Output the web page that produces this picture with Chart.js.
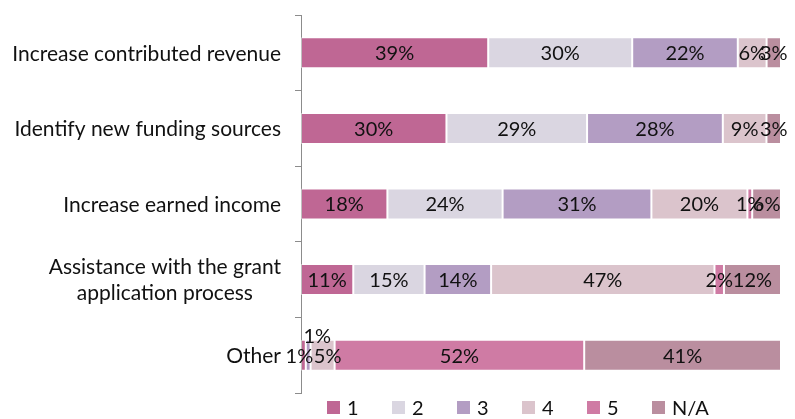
<!DOCTYPE html>
<html>
<head>
<meta charset="utf-8">
<script src="https://cdn.jsdelivr.net/npm/chart.js@4/dist/chart.umd.min.js"></script>
<style>
    html, body { margin: 0; padding: 0; background: #fff; }
    #wrap { width: 795px; height: 419px; position: relative; }
</style>
</head>
<body>
<div id="wrap"><canvas id="chart"></canvas></div>
<script>
// Categories (top to bottom) and rating shares in percent
const categories = [
    'Increase contributed revenue',
    'Identify new funding sources',
    'Increase earned income',
    ['Assistance with the grant', 'application process'],
    'Other'
];
const seriesNames = ['1', '2', '3', '4', '5', 'N/A'];
const rating1 = [39, 30, 18, 11, 1];
const rating2 = [30, 29, 24, 15, 0];
const rating3 = [22, 28, 31, 14, 1];
const rating4 = [6, 9, 20, 47, 5];
const rating5 = [0, 0, 1, 2, 52];
const ratingNA = [3, 3, 6, 12, 41];

const colors = ['#bf6794', '#dad6e1', '#b39dc3', '#dbc4cc', '#cf7ba4', '#ba8e9f'];
const FONT = 'Lato, "Open Sans", sans-serif';

const allSeries = [rating1, rating2, rating3, rating4, rating5, ratingNA];
// Each bar is drawn as 100% stacked, like the original
const rowTotals = categories.map((c, i) => allSeries.reduce((s, arr) => s + arr[i], 0));

// label nudges for crowded segments [dataset, row, dx, dy]
const labelNudges = [[0, 4, -4, 0], [2, 4, 9, -20], [3, 4, 5, 0]];

const segmentLabels = {
    id: 'segmentLabels',
    afterDatasetsDraw(chart) {
        const ctx = chart.ctx;
        ctx.save();
        ctx.font = '20px ' + FONT;
        ctx.fillStyle = '#111';
        ctx.textAlign = 'center';
        ctx.textBaseline = 'middle';
        chart.data.datasets.forEach((ds, di) => {
            const meta = chart.getDatasetMeta(di);
            meta.data.forEach((bar, i) => {
                const raw = ds.raw[i];
                if (!raw) return;
                let x = (bar.base + bar.x) / 2;
                let y = bar.y + 1;
                labelNudges.forEach(n => {
                    if (n[0] === di && n[1] === i) { x += n[2]; y += n[3]; }
                });
                ctx.fillText(raw + '%', x, y);
            });
        });
        ctx.restore();
    }
};

const categoryLabels = {
    id: 'categoryLabels',
    afterDraw(chart) {
        const ctx = chart.ctx;
        const yScale = chart.scales.y;
        ctx.save();
        ctx.font = '21px ' + FONT;
        ctx.fillStyle = '#111';
        ctx.textAlign = 'center';
        ctx.textBaseline = 'middle';
        categories.forEach((cat, i) => {
            const lines = Array.isArray(cat) ? cat : [cat];
            const w = Math.max(...lines.map(l => ctx.measureText(l).width));
            const cx = 281 - w / 2;
            const cy = yScale.getPixelForValue(i);
            const lh = 26;
            lines.forEach((l, k) => {
                ctx.fillText(l, cx, cy + (k - (lines.length - 1) / 2) * lh + 1);
            });
        });
        ctx.restore();
    }
};

const bottomLegend = {
    id: 'bottomLegend',
    afterDraw(chart) {
        const ctx = chart.ctx;
        ctx.save();
        ctx.font = '20px ' + FONT;
        ctx.textBaseline = 'middle';
        chart.data.datasets.forEach((ds, i) => {
            const x = 327 + i * 65;
            ctx.fillStyle = ds.backgroundColor;
            ctx.fillRect(x, 401, 13, 13);
            ctx.fillStyle = '#111';
            ctx.fillText(ds.label, x + 20, 409);
        });
        ctx.restore();
    }
};

const datasets = allSeries.map((arr, i) => ({
    label: seriesNames[i],
    raw: arr,
    data: arr.map((v, r) => v / rowTotals[r] * 100),
    backgroundColor: colors[i],
    borderColor: 'rgba(255,255,255,0.45)',
    borderWidth: 1,
    borderSkipped: false,
    categoryPercentage: 1,
    barPercentage: 0.41
}));

new Chart(document.getElementById('chart'), {
    type: 'bar',
    data: { labels: categories, datasets: datasets },
    options: {
        indexAxis: 'y',
        responsive: true,
        maintainAspectRatio: false,
        animation: false,
        layout: { padding: { top: 15, bottom: 26, right: 14, left: 0 } },
        plugins: {
            legend: { display: false },
            tooltip: { enabled: false }
        },
        scales: {
            x: {
                stacked: true,
                min: 0,
                max: 100,
                display: false
            },
            y: {
                stacked: true,
                ticks: { display: false },
                grid: {
                    drawOnChartArea: false,
                    tickLength: 6,
                    color: '#8c8c8c'
                },
                border: { display: true, color: '#8c8c8c' },
                afterFit: s => { s.width = 301; }
            }
        }
    },
    plugins: [segmentLabels, categoryLabels, bottomLegend]
});
</script>
</body>
</html>
